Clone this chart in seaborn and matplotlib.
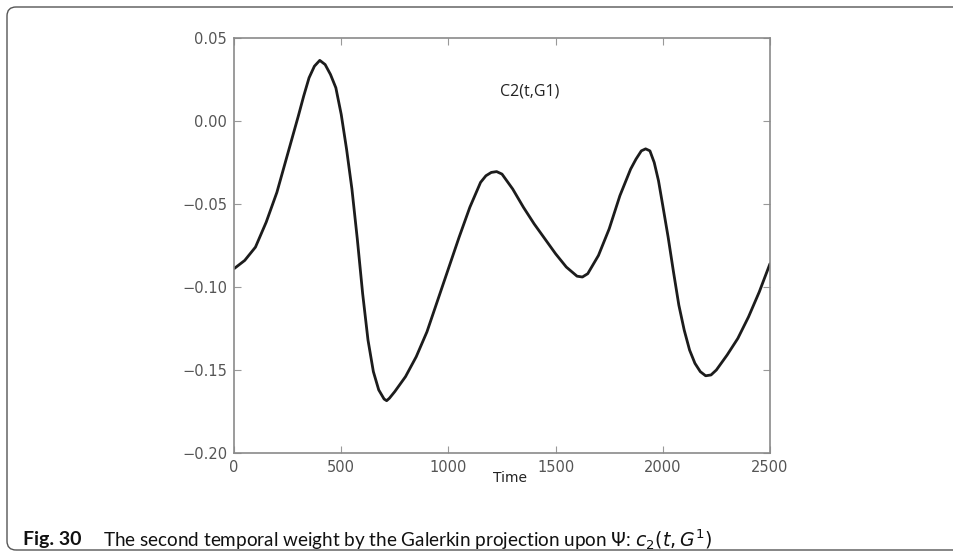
import matplotlib
matplotlib.use("Agg")
import matplotlib.pyplot as plt
import seaborn as sns
import pandas as pd
from matplotlib.patches import FancyBboxPatch

# values
time = [0, 50, 100, 150, 200, 250, 300, 325, 350, 375, 400, 425, 450, 475, 500,
        525, 550, 575, 600, 625, 650, 675, 700, 712, 725, 750, 800, 850, 900,
        950, 1000, 1050, 1100, 1150, 1175, 1200, 1225, 1250, 1300, 1350, 1400,
        1450, 1500, 1550, 1600, 1625, 1650, 1700, 1750, 1800, 1850, 1875, 1900,
        1920, 1940, 1960, 1980, 2000, 2025, 2050, 2075, 2100, 2125, 2150, 2175,
        2200, 2225, 2250, 2300, 2350, 2400, 2450, 2500]
c2 = [-0.089, -0.084, -0.076, -0.061, -0.043, -0.020, 0.003, 0.015, 0.026, 0.033,
      0.0365, 0.034, 0.028, 0.020, 0.004, -0.017, -0.041, -0.071, -0.104, -0.132,
      -0.151, -0.162, -0.1675, -0.1685, -0.167, -0.163, -0.154, -0.142, -0.127,
      -0.108, -0.089, -0.070, -0.052, -0.037, -0.033, -0.031, -0.0305, -0.032,
      -0.041, -0.052, -0.062, -0.071, -0.080, -0.088, -0.0935, -0.094, -0.092,
      -0.081, -0.065, -0.045, -0.029, -0.023, -0.018, -0.0168, -0.018, -0.025,
      -0.036, -0.051, -0.070, -0.091, -0.111, -0.126, -0.138, -0.146, -0.151,
      -0.1535, -0.153, -0.150, -0.141, -0.131, -0.118, -0.103, -0.086]
x_ticks = [0, 500, 1000, 1500, 2000, 2500]
y_ticks = [-0.20, -0.15, -0.10, -0.05, 0.00, 0.05]

sns.set_theme(style="ticks")
plt.rcParams["font.family"] = ["DejaVu Sans"]

df = pd.DataFrame({"Time": time, "c2": c2})

fig = plt.figure(figsize=(9.54, 5.51), dpi=100)
ax = fig.add_axes([0.2453, 0.1779, 0.5618, 0.7532])
sns.lineplot(data=df, x="Time", y="c2", ax=ax, color="#1c1c1c", linewidth=2.0)

ax.set_xlim(0, 2500)
ax.set_ylim(-0.20, 0.05)
ax.set_xticks(x_ticks)
ax.set_yticks(y_ticks)
ax.set_yticklabels([f"{v:.2f}".replace("-", "\u2212") for v in y_ticks])
ax.tick_params(direction="in", top=True, right=True, length=5, width=0.8,
               color="#999999", labelcolor="#555555", labelsize=10.5, pad=5)
for sp in ax.spines.values():
    sp.set_color("#8a8a8a")
    sp.set_linewidth(1.2)
ax.set_xlabel("")
ax.set_ylabel("")

fig.text(510 / 954, 1 - 478 / 551, "Time", ha="center", va="center",
         fontsize=10, color="#222222")
ax.text(530 / 954, 1 - 92 / 551, "C2(t,G1)", transform=fig.transFigure,
        ha="center", va="center", fontsize=11.5, family=["Open Sans", "DejaVu Sans"],
        color="#222222")

# outer rounded frame of the figure panel (inches)
frame = FancyBboxPatch((0.07, 0.01), 20, 5.51 - 0.07 - 0.01,
                       boxstyle="round,pad=0,rounding_size=0.09",
                       transform=fig.dpi_scale_trans, fill=False,
                       edgecolor="#555555", linewidth=1.0, clip_on=False)
fig.patches.append(frame)

cap_font = ["Lato", "DejaVu Sans"]
fig.text(23 / 954, 1 - 540 / 551, "Fig. 30", ha="left", va="center",
         fontsize=14, fontweight="bold", family=cap_font, color="#111111")
fig.text(103 / 954, 1 - 540 / 551,
         r"The second temporal weight by the Galerkin projection upon $\Psi$: $c_2(t, G^1)$",
         ha="left", va="center", fontsize=13.6, family=cap_font, color="#111111")

fig.savefig("out.png", dpi=100)
